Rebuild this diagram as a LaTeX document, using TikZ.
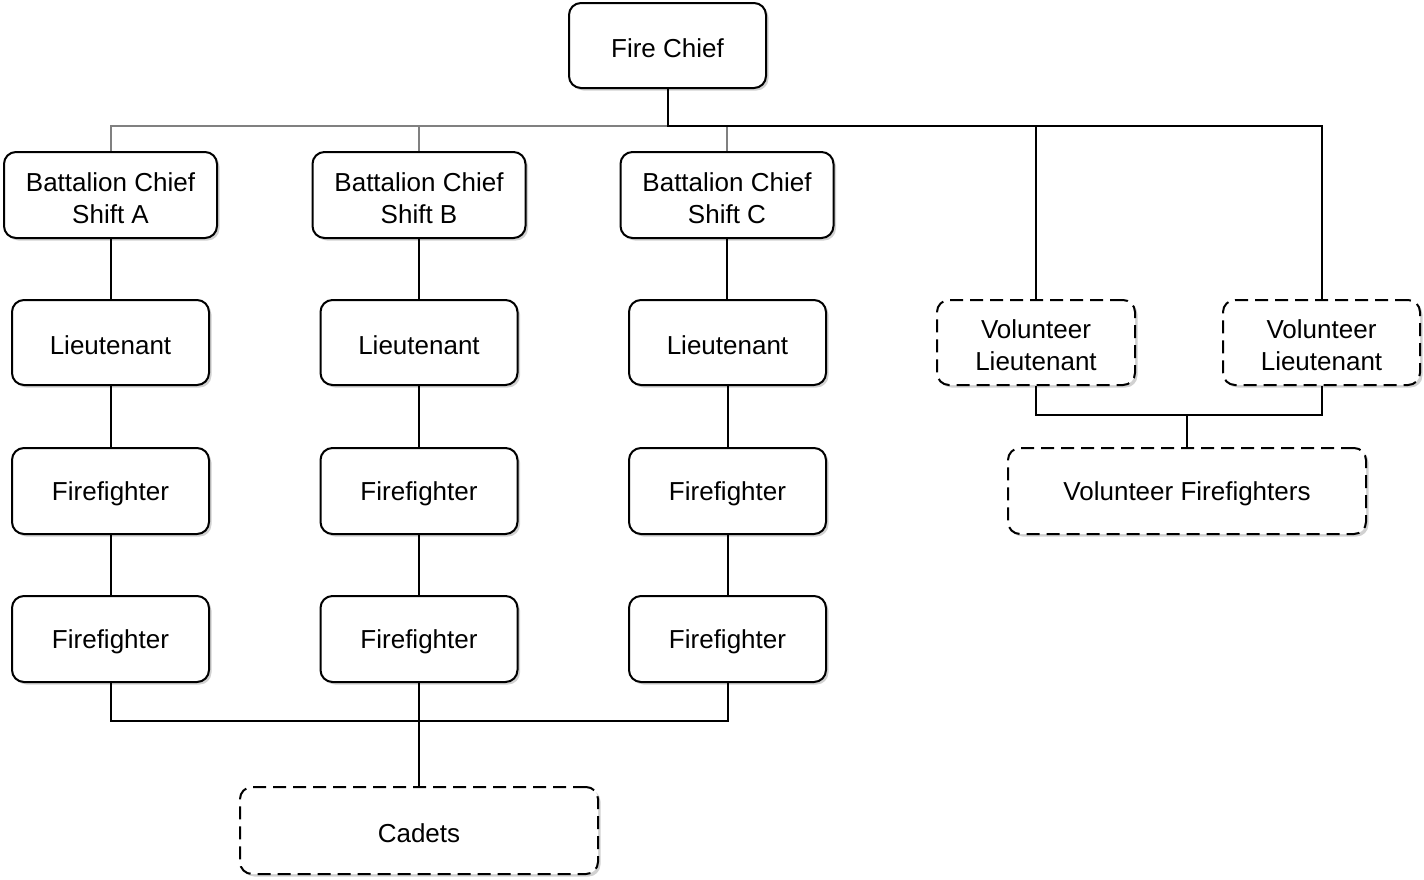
\documentclass[tikz,border=0pt]{standalone}
\usepackage{fontspec}
\setmainfont{Liberation Sans}
\usetikzlibrary{shadows}
\begin{document}
\begin{tikzpicture}[x=1pt,y=-1pt,
  box/.style={draw=black, line width=2pt, rounded corners=12pt, fill=white,
    inner sep=0pt,
    label={[font=\fontsize{26}{32}\selectfont, align=center, inner sep=0pt, yshift=-3pt]center:#1},
    drop shadow={shadow xshift=2.5pt, shadow yshift=-2.5pt, fill=black!18, opacity=1}},
  solidbox/.style={box=#1},
  dashbox/.style={box=#1, dash pattern=on 13pt off 7pt},
  conn/.style={draw=black, line width=2pt},
  gconn/.style={draw=black!50, line width=2pt}]
\useasboundingbox (0,0) rectangle (1424,879);

\node[solidbox={Fire Chief}, minimum width=197pt, minimum height=85pt] (chief) at (667.5,45.5) {};

\foreach \n/\x/\s in {bA/110.5/A, bB/419/B, bC/727/C}{
  \node[solidbox={Battalion Chief\\Shift \s}, minimum width=213pt, minimum height=86pt] (\n) at (\x,195) {};
}
\foreach \n/\x in {A/110.5, B/419, C/727.5}{
  \node[solidbox={Lieutenant}, minimum width=197pt, minimum height=85pt] (l\n) at (\x,342.5) {};
  \node[solidbox={Firefighter}, minimum width=197pt, minimum height=86pt] (f\n) at (\x,491) {};
  \node[solidbox={Firefighter}, minimum width=197pt, minimum height=86pt] (g\n) at (\x,639) {};
}

\node[dashbox={Volunteer\\Lieutenant}, minimum width=198pt, minimum height=85pt] (vl1) at (1036,342.5) {};
\node[dashbox={Volunteer\\Lieutenant}, minimum width=197pt, minimum height=85pt] (vl2) at (1321.5,342.5) {};
\node[dashbox={Volunteer Firefighters}, minimum width=358pt, minimum height=86pt] (vf) at (1187,491) {};
\node[dashbox={Cadets}, minimum width=358pt, minimum height=87pt] (cad) at (419,830.5) {};

% coordinates for junctions
\coordinate (top) at (667.5,126);
\coordinate (vj) at (1187,415);
\coordinate (cj) at (419,721);

% gray branch to battalion chiefs
\draw[gconn] (bA.north) |- (top);
\draw[gconn] (bB.north) -- (bB.north |- top);
\draw[gconn] (bC.north) -- (bC.north |- top);
% black branch to volunteers
\draw[conn] (chief.south) -- (top) -| (vl2.north);
\draw[conn] (vl1.north) -- (vl1.north |- top);

% chains
\foreach \a/\n in {A/bA, B/bB, C/bC}{
  \draw[conn] (\n.south) -- (\n.south |- l\a.north);
  \draw[conn] (l\a.south) -- (f\a.north);
  \draw[conn] (f\a.south) -- (g\a.north);
}

% cadets
\draw[conn] (gA.south) |- (cj) -| (gC.south);
\draw[conn] (gB.south) -- (cad.north);

% volunteer firefighters
\draw[conn] (vl1.south) |- (vj) -| (vl2.south);
\draw[conn] (vj) -- (vf.north);
\end{tikzpicture}
\end{document}
